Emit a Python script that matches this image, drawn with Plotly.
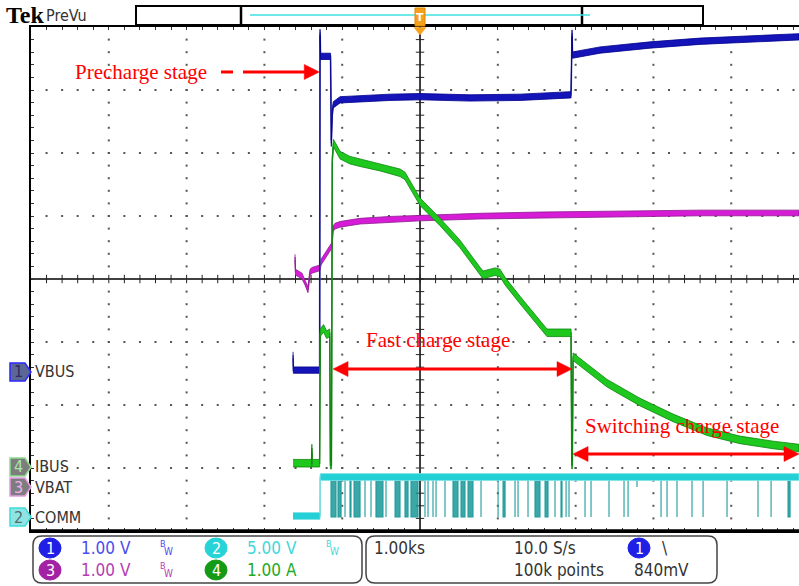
import plotly.graph_objects as go

# ================= data =================
# time axis: kiloseconds relative to the trigger point (1.00 ks/div)
vbus_t = [-1.632, -1.628, -1.290, -1.285, -1.278, -1.150, -1.140, -1.128, -1.115, -1.028,
          -0.771, -0.386, 0.000, 0.643, 1.285, 1.941, 1.954, 1.960, 2.314, 2.956,
          3.599, 4.242, 4.871]
vbus_v = [0.27, 0.03, 0.03, 5.39, 5.01, 5.01, 3.63, 4.10, 4.24, 4.32,
          4.34, 4.36, 4.37, 4.35, 4.36, 4.40, 5.38, 5.03, 5.11, 5.19,
          5.25, 5.29, 5.32]

ibus_t = [-1.632, -1.395, -1.390, -1.385, -1.290, -1.283, -1.240, -1.200, -1.160, -1.152,
          -1.138, -1.128, -1.112, -1.028, -0.900, -0.771, -0.514, -0.257, -0.193, 0.000,
          0.257, 0.514, 0.771, 0.810, 0.964, 1.028, 1.093, 1.285, 1.632, 1.941,
          1.950, 1.958, 1.967, 2.404, 2.828, 3.252, 3.689, 4.113, 4.537, 4.871]
ibus_a = [0.06, 0.06, 0.30, 0.06, 0.06, 2.13, 2.20, 2.10, 2.13, 0.03,
          0.03, 4.87, 5.14, 4.95, 4.87, 4.83, 4.76, 4.67, 4.62, 4.21,
          3.89, 3.54, 3.11, 3.05, 3.10, 3.08, 2.95, 2.65, 2.13, 2.13,
          0.03, 0.03, 1.75, 1.33, 1.03, 0.78, 0.56, 0.43, 0.35, 0.30]

vbat_t = [-1.607, -1.600, -1.517, -1.478, -1.440, -1.414, -1.388, -1.285, -1.272, -1.157,
          -1.131, -1.118, -1.093, -1.028, -0.771, -0.386, 0.000, 0.771, 1.542, 2.314,
          3.599, 4.871]
vbat_v = [3.65, 3.41, 3.35, 3.25, 3.13, 3.41, 3.44, 3.48, 3.57, 3.79,
          3.84, 4.10, 4.14, 4.17, 4.22, 4.25, 4.27, 4.30, 4.32, 4.33,
          4.35, 4.35]

comm_t = [-1.632, -1.285, -1.283, 4.871]
comm_v = [0.08, 0.08, 3.17, 3.17]
comm_pulse_start = [-1.144, -1.054, -0.964, -0.900, -0.848, -0.707, -0.630, -0.566, -0.437, -0.321,
                    -0.193, -0.116, 0.064, 0.103, 0.167, 0.206, 0.321, 0.424, 0.527, 0.617,
                    0.784, 1.003, 1.067, 1.221, 1.260, 1.388, 1.478, 1.607, 1.735, 1.812,
                    1.877, 1.915, 2.121, 2.198, 2.429, 2.622, 2.674, 2.789, 3.098, 3.175,
                    3.303, 3.496, 3.638, 3.946, 4.344, 4.512, 4.730]
comm_pulse_end = [-1.080, -1.015, -0.964, -0.887, -0.771, -0.707, -0.630, -0.476, -0.437, -0.257,
                  -0.154, -0.026, 0.064, 0.103, 0.167, 0.206, 0.321, 0.488, 0.578, 0.681,
                  0.784, 1.003, 1.093, 1.221, 1.260, 1.388, 1.542, 1.645, 1.735, 1.825,
                  1.877, 1.915, 2.121, 2.198, 2.429, 2.622, 2.674, 2.789, 3.098, 3.175,
                  3.303, 3.496, 3.638, 3.946, 4.344, 4.512, 4.756]
comm_pulse_low = [0.00] * 37 + [2.38] + [0.00] * 9

# channel settings: number, volts (amps) per division, ground marker in divisions
ch_names = ["VBUS", "IBUS", "VBAT", "COMM"]
ch_numbers = [1, 4, 3, 2]
ch_scale = [1.00, 1.00, 1.00, 5.00]
ch_units = ["V", "A", "V", "V"]
ch_offset = [-1.476, -2.984, -3.302, -3.778]

horiz_scale = "1.00ks"
sample_rate = "10.0 S/s"
record_len = "100k points"
trig_level = "840mV"

stage_labels = ["Precharge stage", "Fast charge stage", "Switching charge stage"]

# ================= helpers =================
W, H = 799, 586
L, T, B = 31, 27, 55
PW, PH = W - L, H - T - B
X_RANGE = [-5.0, 4.871]
Y_RANGE = [-4.0, 4.0]


def xp(px):
    return (px - L) / PW


def yp(py):
    return (H - B - py) / PH


def to_div(vals, k):
    return [ch_offset[k] + v / ch_scale[k] for v in vals]


def band(t, y, h):
    xs = list(t) + list(t)[::-1]
    ys = [v + h for v in y] + [v - h for v in y[::-1]]
    return xs, ys


NARROW = "Liberation Sans Narrow, DejaVu Sans Condensed, Arial Narrow, Liberation Sans, sans-serif"
SERIF = "Liberation Serif, Times New Roman, serif"
RED = "#ff0000"

fig = go.Figure()

# ---------- graticule ----------
gx, gy = [], []
for k in range(-4, 5):
    if k == 0:
        continue
    for i in range(1, 40):
        gx.append(k)
        gy.append(-4 + 0.2 * i)
for j in range(-3, 4):
    if j == 0:
        continue
    for i in range(1, 50):
        gx.append(-5 + 0.2 * i)
        gy.append(j)
fig.add_trace(go.Scatter(x=gx, y=gy, mode="markers", hoverinfo="skip",
                         marker=dict(symbol="square", size=2, color="#555555")))
cx = [-5 + 0.2 * i for i in range(1, 50)]
fig.add_trace(go.Scatter(x=cx, y=[0] * len(cx), mode="markers", hoverinfo="skip",
                         marker=dict(symbol="line-ns", size=6, line=dict(width=1, color="#222"))))
cy = [-4 + 0.2 * i for i in range(1, 40)]
fig.add_trace(go.Scatter(x=[0] * len(cy), y=cy, mode="markers", hoverinfo="skip",
                         marker=dict(symbol="line-ew", size=6, line=dict(width=1, color="#222"))))

# ---------- COMM (ch2) ----------
k2 = 3
hi = comm_v[-1]
px_, py_ = [], []
for s, e, lo in zip(comm_pulse_start, comm_pulse_end, comm_pulse_low):
    e = max(e, s + 0.004)
    y_hi = ch_offset[k2] + hi / ch_scale[k2]
    y_lo = ch_offset[k2] + lo / ch_scale[k2]
    px_ += [s, s, e, e, s, None]
    py_ += [y_hi, y_lo, y_lo, y_hi, y_hi, None]
fig.add_trace(go.Scatter(x=px_, y=py_, mode="lines", fill="toself", hoverinfo="skip",
                         fillcolor="rgba(10,145,145,0.8)", line=dict(color="#1f9c9c", width=1.1)))
comm_y = to_div(comm_v, k2)
fig.add_trace(go.Scatter(x=comm_t, y=comm_y, mode="lines", hoverinfo="skip",
                         line=dict(color="#66cfcf", width=1.4)))
bx, by = band(comm_t, comm_y, 0.055)
fig.add_trace(go.Scatter(x=bx, y=by, mode="lines", fill="toself", hoverinfo="skip",
                         fillcolor="#22d0d6", line=dict(color="#7fe2e5", width=0.8)))

# ---------- VBAT (ch3) ----------
k3 = 2
vbat_y = to_div(vbat_v, k3)
fig.add_trace(go.Scatter(x=vbat_t, y=vbat_y, mode="lines", hoverinfo="skip",
                         line=dict(color="#b04cb0", width=1.3)))
bx, by = band(vbat_t, vbat_y, 0.045)
fig.add_trace(go.Scatter(x=bx, y=by, mode="lines", fill="toself", hoverinfo="skip",
                         fillcolor="#d61cd6", line=dict(color="#8c1a8c", width=0.8)))

# ---------- VBUS (ch1) ----------
k1 = 0
vbus_y = to_div(vbus_v, k1)
fig.add_trace(go.Scatter(x=vbus_t, y=vbus_y, mode="lines", hoverinfo="skip",
                         line=dict(color="#7a7ac4", width=1.7)))
bx, by = band(vbus_t, vbus_y, 0.05)
fig.add_trace(go.Scatter(x=bx, y=by, mode="lines", fill="toself", hoverinfo="skip",
                         fillcolor="#1414b8", line=dict(color="#00008c", width=0.8)))

# ---------- IBUS (ch4) ----------
k4 = 1
ibus_y = to_div(ibus_a, k4)
fig.add_trace(go.Scatter(x=ibus_t, y=ibus_y, mode="lines", hoverinfo="skip",
                         line=dict(color="#2e8b2e", width=1.4)))
bx, by = band(ibus_t, ibus_y, 0.06)
fig.add_trace(go.Scatter(x=bx, y=by, mode="lines", fill="toself", hoverinfo="skip",
                         fillcolor="#1ec81e", line=dict(color="#0b870b", width=0.8)))

shapes = []
ann = []

# center lines and bottom border
shapes.append(dict(type="line", xref="x", yref="y", x0=0, x1=0, y0=-4, y1=4,
                   line=dict(color="black", width=1.5), layer="below"))
shapes.append(dict(type="line", xref="x", yref="y", x0=-5, x1=4.871, y0=0, y1=0,
                   line=dict(color="black", width=1.5), layer="below"))
shapes.append(dict(type="line", xref="paper", yref="paper", x0=0, x1=1, y0=0, y1=0,
                   line=dict(color="black", width=3.5)))

# ---------- red stage annotations ----------
HL, HH = 0.193, 0.119  # arrow head length (ks) / half-height (div)


def head(tip_x, y, direction):
    bxh = tip_x - direction * HL
    return dict(type="path", xref="x", yref="y",
                path=f"M {tip_x},{y} L {bxh},{y + HH} L {bxh},{y - HH} Z",
                fillcolor=RED, line=dict(color=RED, width=0.5))


# precharge: dashed arrow pointing at start of precharge
yp_pre = 3.286
shapes.append(dict(type="line", xref="x", yref="y", x0=-2.558, x1=-2.404, y0=yp_pre, y1=yp_pre,
                   line=dict(color=RED, width=3)))
shapes.append(dict(type="line", xref="x", yref="y", x0=-2.275, x1=-1.45, y0=yp_pre, y1=yp_pre,
                   line=dict(color=RED, width=3)))
shapes.append(head(-1.295, yp_pre, 1))
ann.append(dict(x=-3.586, y=yp_pre, xref="x", yref="y", text=stage_labels[0], showarrow=False,
                font=dict(family=SERIF, size=21, color=RED), xanchor="center", yanchor="middle"))

# fast charge: between end of precharge and start of switching stage
y_fast = -1.429
t_fast0, t_fast1 = -1.118, 1.954
shapes.append(dict(type="line", xref="x", yref="y", x0=t_fast0 + HL * 0.8, x1=t_fast1 - HL * 0.8,
                   y0=y_fast, y1=y_fast, line=dict(color=RED, width=3)))
shapes.append(head(t_fast0, y_fast, -1))
shapes.append(head(t_fast1, y_fast, 1))
ann.append(dict(x=0.225, y=-0.968, xref="x", yref="y", text=stage_labels[1], showarrow=False,
                font=dict(family=SERIF, size=21, color=RED), xanchor="center", yanchor="middle"))

# switching charge
y_sw = -2.778
t_sw0, t_sw1 = 1.967, 4.871
shapes.append(dict(type="line", xref="x", yref="y", x0=t_sw0 + HL * 0.8, x1=t_sw1 - HL * 0.8,
                   y0=y_sw, y1=y_sw, line=dict(color=RED, width=3)))
shapes.append(head(t_sw0, y_sw, -1))
shapes.append(head(t_sw1, y_sw, 1))
ann.append(dict(x=3.361, y=-2.333, xref="x", yref="y", text=stage_labels[2], showarrow=False,
                font=dict(family=SERIF, size=21, color=RED), xanchor="center", yanchor="middle"))

# ---------- top bar (Tek PreVu + record view) ----------
ann.append(dict(x=xp(4), y=yp(15), xref="paper", yref="paper", text="<b>Tek</b>", showarrow=False,
                font=dict(family=SERIF, size=24, color="black"), xanchor="left", yanchor="middle"))
ann.append(dict(x=xp(44), y=yp(15), xref="paper", yref="paper", text="PreVu", showarrow=False,
                font=dict(family=NARROW, size=16, color="#333333"), xanchor="left", yanchor="middle"))
shapes.append(dict(type="rect", xref="paper", yref="paper", x0=xp(136), x1=xp(703), y0=yp(25), y1=yp(6),
                   line=dict(color="black", width=2), fillcolor="white"))
for dx in (241, 582):
    shapes.append(dict(type="line", xref="paper", yref="paper", x0=xp(dx), x1=xp(dx), y0=yp(25), y1=yp(6),
                       line=dict(color="black", width=2.5)))
shapes.append(dict(type="line", xref="paper", yref="paper", x0=xp(250), x1=xp(590), y0=yp(15), y1=yp(15),
                   line=dict(color="#3ee0e0", width=1.5)))
ORANGE = "#f6a01e"
shapes.append(dict(type="rect", xref="paper", yref="paper", x0=xp(415), x1=xp(425), y0=yp(26), y1=yp(8),
                   line=dict(color="#e08a00", width=1), fillcolor=ORANGE))
shapes.append(dict(type="path", xref="paper", yref="paper",
                   path=f"M {xp(414)},{yp(27.5)} L {xp(426)},{yp(27.5)} L {xp(420)},{yp(35)} Z",
                   fillcolor=ORANGE, line=dict(color=ORANGE, width=0.5)))
ann.append(dict(x=xp(420), y=yp(17), xref="paper", yref="paper", text="<b>T</b>", showarrow=False,
                font=dict(family="DejaVu Sans", size=11, color="white"), xanchor="center", yanchor="middle"))

# ---------- channel ground markers on the left ----------
tag_style = {
    1: ("#5d6796", "#2a2aff", "#2c2c60"),
    2: ("#8fe3e3", "#3fdcdc", "#4d6f6f"),
    3: ("#7d7d7d", "#e59be5", "#f0b0f0"),
    4: ("#7d7d7d", "#8fdc8f", "#a8e8a8"),
}
for k in range(4):
    n = ch_numbers[k]
    yc = (ch_offset[k] - Y_RANGE[0]) / (Y_RANGE[1] - Y_RANGE[0])
    hh = 9 / PH
    fill, border, digit = tag_style[n]
    shapes.append(dict(type="path", xref="paper", yref="paper",
                       path=(f"M {xp(10)},{yc + hh} L {xp(25)},{yc + hh} L {xp(31)},{yc} "
                             f"L {xp(25)},{yc - hh} L {xp(10)},{yc - hh} Z"),
                       fillcolor=fill, line=dict(color=border, width=1.5)))
    ann.append(dict(x=xp(18.5), y=yc, xref="paper", yref="paper", text=str(n), showarrow=False,
                    font=dict(family=NARROW, size=16, color=digit), xanchor="center", yanchor="middle"))
    ann.append(dict(x=xp(33), y=yc, xref="paper", yref="paper", text=ch_names[k], showarrow=False,
                    font=dict(family=NARROW, size=16, color="#333333"), xanchor="left", yanchor="middle"))

# ---------- bottom status bar ----------


def rrect(x0, y0, x1, y1, r):
    return (f"M {xp(x0 + r)},{yp(y0)} L {xp(x1 - r)},{yp(y0)} Q {xp(x1)},{yp(y0)} {xp(x1)},{yp(y0 + r)} "
            f"L {xp(x1)},{yp(y1 - r)} Q {xp(x1)},{yp(y1)} {xp(x1 - r)},{yp(y1)} "
            f"L {xp(x0 + r)},{yp(y1)} Q {xp(x0)},{yp(y1)} {xp(x0)},{yp(y1 - r)} "
            f"L {xp(x0)},{yp(y0 + r)} Q {xp(x0)},{yp(y0)} {xp(x0 + r)},{yp(y0)} Z")


for bx0, bx1 in ((33, 362), (366, 717)):
    shapes.append(dict(type="path", xref="paper", yref="paper", path=rrect(bx0, 536, bx1, 583, 9),
                       line=dict(color="#444444", width=1.5), fillcolor="rgba(0,0,0,0)"))

badge_col = {1: "#1f1fe6", 2: "#26d3d6", 3: "#a321a3", 4: "#159a15"}
text_col = {1: "#4b4bf0", 2: "#3fd7da", 3: "#b53cb5", 4: "#22aa22"}
slot = {1: (50, 548), 2: (216, 548), 3: (50, 570), 4: (216, 570)}
bw_limit = {1: True, 2: True, 3: True, 4: False}


def badge(cxp, cyp, n, col):
    shapes.append(dict(type="circle", xref="paper", yref="paper", x0=xp(cxp - 11), x1=xp(cxp + 11),
                       y0=yp(cyp + 10), y1=yp(cyp - 10), fillcolor=col, line=dict(color=col, width=1)))
    ann.append(dict(x=xp(cxp), y=yp(cyp), xref="paper", yref="paper", text=str(n), showarrow=False,
                    font=dict(family=NARROW, size=16, color="white"), xanchor="center", yanchor="middle"))


for k in range(4):
    n = ch_numbers[k]
    sx, sy = slot[n]
    badge(sx, sy, n, badge_col[n])
    ann.append(dict(x=xp(sx + 29), y=yp(sy), xref="paper", yref="paper",
                    text=f"{ch_scale[k]:.2f} {ch_units[k]}", showarrow=False,
                    font=dict(family=NARROW, size=17, color=text_col[n]), xanchor="left", yanchor="middle"))
    if bw_limit[n]:
        ann.append(dict(x=xp(sx + 108), y=yp(sy - 4), xref="paper", yref="paper", text="B", showarrow=False,
                        font=dict(family=NARROW, size=9, color=text_col[n]), xanchor="left", yanchor="middle"))
        ann.append(dict(x=xp(sx + 112), y=yp(sy + 3), xref="paper", yref="paper", text="W", showarrow=False,
                        font=dict(family=NARROW, size=10, color=text_col[n]), xanchor="left", yanchor="middle"))

GREY = "#333333"
for txt, x0, y0 in ((horiz_scale, 372, 548), (sample_rate, 512, 548), (record_len, 512, 570),
                    (trig_level, 632, 570), ("\\", 660, 548)):
    ann.append(dict(x=xp(x0), y=yp(y0), xref="paper", yref="paper", text=txt, showarrow=False,
                    font=dict(family=NARROW, size=17, color=GREY), xanchor="left", yanchor="middle"))
badge(639, 548, 1, badge_col[1])

fig.update_layout(
    width=W, height=H,
    margin=dict(l=L, r=0, t=T, b=B, pad=0),
    paper_bgcolor="white", plot_bgcolor="white",
    showlegend=False,
    xaxis=dict(range=X_RANGE, showgrid=False, zeroline=False, showline=True, linecolor="black",
               linewidth=2, mirror="ticks", ticks="inside", tick0=-5, dtick=0.2, ticklen=3,
               tickcolor="#333", showticklabels=False, fixedrange=True),
    yaxis=dict(range=Y_RANGE, showgrid=False, zeroline=False, showline=True, linecolor="black",
               linewidth=2, mirror=False, ticks="inside", tick0=-4, dtick=0.2, ticklen=3,
               tickcolor="#333", showticklabels=False, fixedrange=True),
    shapes=shapes,
    annotations=ann,
)

fig.write_html("out.html", config={"displayModeBar": False},
               post_script="document.body.style.margin='0px';document.body.style.overflow='hidden';")
